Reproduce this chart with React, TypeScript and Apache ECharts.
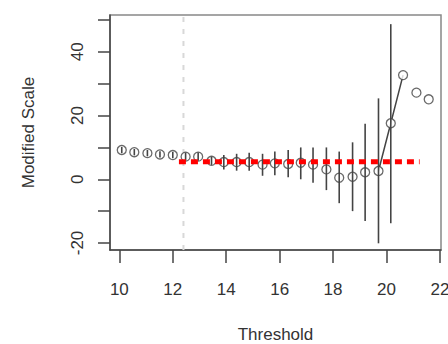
import React, { useEffect, useRef } from "react";
import * as echarts from "echarts";

const thresholds = [10.09, 10.56, 11.05, 11.52, 12.0, 12.48, 12.95, 13.45, 13.91, 14.39, 14.86, 15.36, 15.82, 16.32, 16.79, 17.25, 17.75, 18.23, 18.73, 19.2, 19.7, 20.16, 20.62, 21.12, 21.58];
const scaleValues = [9.2, 8.5, 8.2, 7.8, 7.6, 7.1, 7.1, 5.8, 5.4, 5.4, 5.4, 4.6, 5.0, 4.8, 5.2, 4.6, 3.1, 0.5, 0.8, 2.2, 2.6, 17.6, 32.7, 27.2, 25.1];
const upperValues: (number | null)[] = [10.2, 9.5, 9.2, 8.8, 8.6, 8.4, 8.4, 7.1, 7.6, 8.0, 8.3, 8.0, 8.7, 9.2, 10.0, 10.0, 10.0, 8.7, 11.6, 17.4, 25.4, 48.7, null, null, null];
const lowerValues: (number | null)[] = [8.2, 7.5, 7.2, 6.8, 6.6, 5.8, 5.8, 4.5, 3.1, 2.7, 2.7, 1.1, 1.3, 0.6, 0.0, -1.1, -3.4, -7.5, -10.0, -13.1, -20.1, -13.8, null, null, null];
const connectedIdx = [20, 21, 22];
const refThreshold = 12.4;
const refScale = 5.52;
const refStart = 12.23;
const refEnd = 21.24;
const xTicks = [10, 12, 14, 16, 18, 20, 22];
const yTicks = [-20, -10, 0, 10, 20, 30, 40, 50];
const yLabels = [-20, 0, 20, 40];
const xMin = 9.65, xMax = 22.04, yMin = -22.2, yMax = 51.57;

export default function App() {
  const ref = useRef<HTMLDivElement>(null);
  useEffect(() => {
    const chart = echarts.init(ref.current!, null, { renderer: "svg" });
    const font = "Liberation Sans";
    const points = thresholds.map((x, i) => [x, scaleValues[i]]);
    const bars = thresholds
      .map((x, i) => [x, lowerValues[i], upperValues[i]])
      .filter((d) => d[1] !== null && d[2] !== null);
    chart.setOption({
      animation: false,
      backgroundColor: "#fff",
      grid: {
        left: 110, right: 7, top: 15, bottom: 94, containLabel: false, outerBoundsMode: "none",
        show: true, borderColor: "#888", borderWidth: 1.5, backgroundColor: "transparent",
      },
      xAxis: {
        type: "value", min: xMin, max: xMax,
        name: "Threshold", nameLocation: "middle", nameGap: 76,
        nameTextStyle: { fontFamily: font, fontSize: 17, lineHeight: 17, color: "#333" },
        axisLine: { show: true, onZero: false, lineStyle: { color: "#444", width: 1.5 } },
        axisTick: { show: true, customValues: xTicks, length: 13, lineStyle: { color: "#444", width: 1.5 } },
        axisLabel: { customValues: xTicks, margin: 31, fontFamily: font, fontSize: 17, color: "#333" },
        splitLine: { show: false },
      },
      yAxis: {
        type: "value", min: yMin, max: yMax,
        name: "Modified Scale", nameLocation: "middle", nameGap: 73,
        nameTextStyle: { fontFamily: font, fontSize: 17, color: "#333" },
        axisLine: { show: true, onZero: false, lineStyle: { color: "#444", width: 1.5 } },
        axisTick: { show: true, customValues: yTicks, length: 12, lineStyle: { color: "#444", width: 1.5 } },
        axisLabel: { customValues: yLabels, rotate: 90, margin: 24, fontFamily: font, fontSize: 17, color: "#333" },
        splitLine: { show: false },
      },
      series: [
        {
          type: "line", z: 1, symbol: "none", silent: true,
          data: [[refThreshold, yMin], [refThreshold, yMax]],
          lineStyle: { color: "#d8d8d8", width: 2, type: [5, 7] },
        },
        {
          type: "line", z: 2, symbol: "none",
          data: connectedIdx.map((i) => points[i]),
          lineStyle: { color: "#444", width: 1.5 },
        },
        {
          type: "scatter", z: 3, symbol: "circle", symbolSize: 9,
          data: points,
          itemStyle: { color: "#fff", borderColor: "#444", borderWidth: 1.3 },
        },
        {
          type: "custom", z: 4,
          data: bars,
          encode: { x: 0, y: [1, 2] },
          renderItem: (params: any, api: any) => {
            const x = api.value(0);
            const p1 = api.coord([x, api.value(1)]);
            const p2 = api.coord([x, api.value(2)]);
            return {
              type: "line",
              shape: { x1: p1[0], y1: p1[1], x2: p2[0], y2: p2[1] },
              style: { stroke: "#444", lineWidth: 1.6 },
            };
          },
        },
        {
          type: "line", z: 5, symbol: "none",
          data: [[refStart, refScale], [refEnd, refScale]],
          lineStyle: { color: "#ff0000", width: 5, type: [7, 5], cap: "butt" },
        },
      ],
    });
    return () => chart.dispose();
  }, []);
  return <div ref={ref} style={{ position: "fixed", left: 0, top: 0, width: 448, height: 344, background: "#fff" }} />;
}
